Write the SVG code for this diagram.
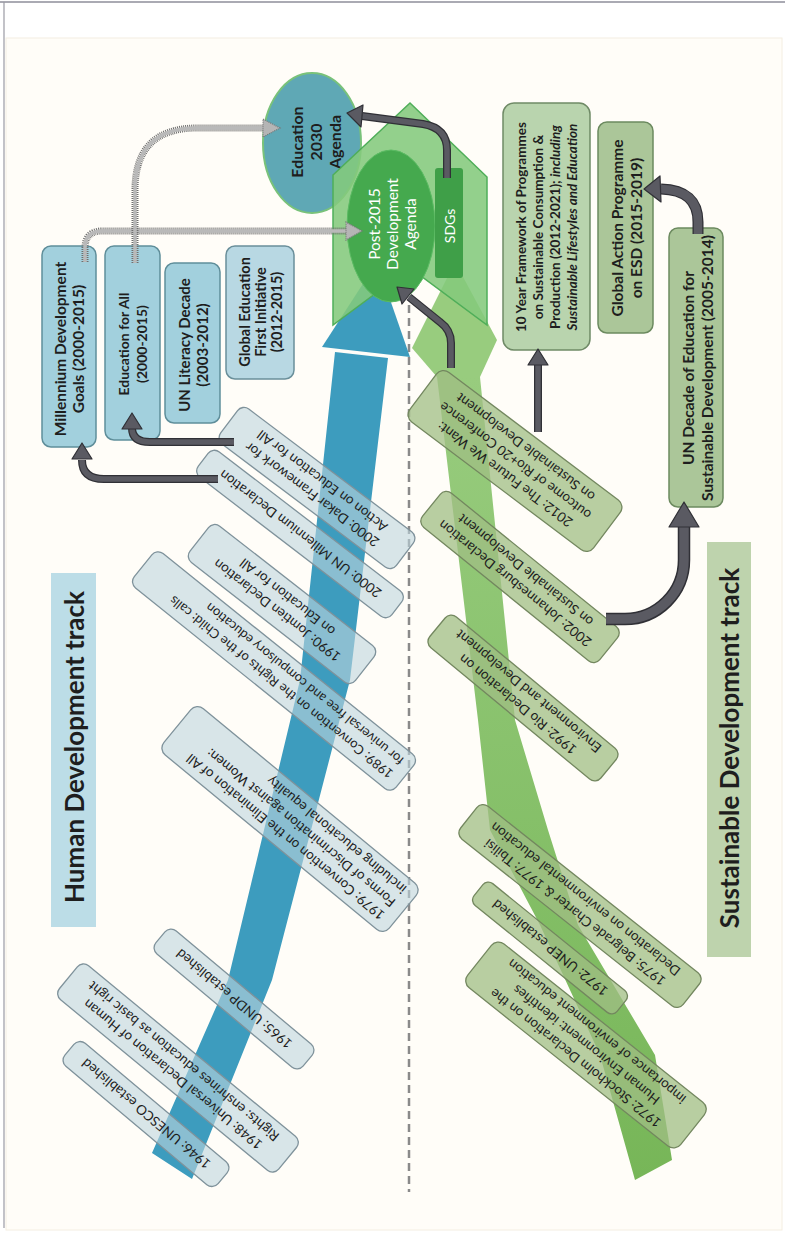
<svg xmlns="http://www.w3.org/2000/svg" width="785" height="1256" viewBox="0 0 785 1256">
<defs>
<style>
text{font-family:Lato,"Open Sans","Liberation Sans",sans-serif;fill:#1e1e1e;dominant-baseline:central;text-anchor:middle}
text.st{text-anchor:start}
.vt{font-size:14px;font-weight:bold}
.dt{font-size:13.5px}
.bb{fill:#bed5de;fill-opacity:.6;stroke:#7f929b;stroke-width:1.3}
.gb{fill:#a0be84;fill-opacity:.75;stroke:#73875f;stroke-width:1.3}
.vb{fill:#a2d0dd;stroke:#5f8e9a;stroke-width:1.5}
.gvb{fill:#abc699;stroke:#6c8a5f;stroke-width:1.5}
.dko{fill:none;stroke:#303036;stroke-width:8}
.dki{fill:none;stroke:#5a5a62;stroke-width:5.5}
.dkh{fill:#5a5a62;stroke:#303036;stroke-width:1.2;stroke-linejoin:round}
.dto{fill:none;stroke:#6f6f6f;stroke-width:7;stroke-dasharray:1 1}
.dti{fill:none;stroke:#b9b9b9;stroke-width:3.5}
.dth{fill:#b5b5b5;stroke:#777;stroke-width:1.2;stroke-dasharray:1 1}
</style>
<linearGradient id="gg" x1="0" y1="0" x2="0" y2="1">
<stop offset="0" stop-color="#98cc7e"/><stop offset="1" stop-color="#77b658"/>
</linearGradient>
</defs>
<rect width="785" height="1256" fill="#ffffff"/>
<rect x="6" y="38" width="776" height="1192" fill="#fffdf8" stroke="#f4eee2" stroke-width="1"/>
<line x1="0" y1="2" x2="785" y2="2" stroke="#8e8e9a" stroke-width="1.5"/>
<line x1="4" y1="2" x2="4" y2="1228" stroke="#9a9aa3" stroke-width="1.2"/>

<g id="human-track-label">
<rect x="51" y="573" width="45" height="354" fill="#bcdde7"/>
<text transform="translate(74,747) rotate(-90)" font-size="26" font-weight="bold">Human Development track</text>
</g>
<g id="sustainable-track-label">
<rect x="707" y="542" width="44" height="415" fill="#bed3ad"/>
<text transform="translate(729,748) rotate(-90)" font-size="26" font-weight="bold">Sustainable Development track</text>
</g>

<line id="divider" x1="409" y1="305" x2="409" y2="1192" stroke="#8a8a8a" stroke-width="2.5" stroke-dasharray="8 5"/>

<g id="tracks">
<polygon fill="#3d9cbe" points="335,352 388,358 350,680 272,980 192,1179 152,1153 228,980 300,680"/>
<polygon fill="#3d9cbe" points="322,347 377,262 410,357"/>
<polygon fill="url(#gg)" points="437,377 480,377 515,720 548,830 578,925 655,1055 672,1160 635,1180 600,1055 540,925 490,830 478,720"/>
<polygon fill="#98cc7e" points="437,377 412,348 455,262 497,340 480,377"/>
</g>

<g id="b1946" transform="translate(146,1114) rotate(220)"><rect class="bb" x="-100" y="-15" width="200" height="30" rx="8"/><text class="dt"><tspan x="0" y="0">1946: UNESCO established</tspan></text></g>
<g id="b1948" transform="translate(178,1068) rotate(219.5)"><rect class="bb" x="-142" y="-22" width="284" height="44" rx="8"/><text class="dt"><tspan x="0" y="-8.5">1948: Universal Declaration of Human</tspan><tspan x="0" y="8.5">Rights: enshrines education as basic right</tspan></text></g>
<g id="b1965" transform="translate(234,999) rotate(220)"><rect class="bb" x="-96" y="-15" width="192" height="30" rx="8"/><text class="dt"><tspan x="0" y="0">1965: UNDP established</tspan></text></g>
<g id="b1979" transform="translate(290,819) rotate(219.5)"><rect class="bb" x="-146" y="-30" width="292" height="60" rx="9"/><text class="dt st"><tspan x="-134" y="-17">1979: Convention on the Elimination of All</tspan><tspan x="-134" y="0">Forms of Discrimination against Women:</tspan><tspan x="-134" y="17">including educational equality</tspan></text></g>
<g id="b1989" transform="translate(274,671) rotate(218.8)"><rect class="bb" x="-168" y="-22" width="336" height="44" rx="8"/><text class="dt st" style="font-size:13px"><tspan x="-157" y="-8.5">1989: Convention on the Rights of the Child: calls</tspan><tspan x="-157" y="8.5">for universal free and compulsory education</tspan></text></g>
<g id="b1990" transform="translate(282,604) rotate(218)"><rect class="bb" x="-105" y="-23" width="210" height="46" rx="8"/><text class="dt"><tspan x="0" y="-8.5">1990: Jomtien Declaration</tspan><tspan x="0" y="8.5">on Education for All</tspan></text></g>
<g id="b2000dakar" transform="translate(317,488) rotate(217)"><rect class="bb" x="-110" y="-22" width="220" height="44" rx="8"/><text class="dt"><tspan x="0" y="-8.5">2000: Dakar Framework for</tspan><tspan x="0" y="8.5">Action on Education for All</tspan></text></g>
<g id="b2000mill" transform="translate(300,534) rotate(217.5)"><rect class="bb" x="-122" y="-16" width="244" height="32" rx="8"/><text class="dt"><tspan x="0" y="0">2000: UN Millennium Declaration</tspan></text></g>

<g id="g1975" transform="translate(580,906) rotate(218.4)"><rect class="gb" x="-142" y="-21" width="284" height="42" rx="8"/><text class="dt"><tspan x="0" y="-8.5">1975: Belgrade Charter &amp; 1977: Tbilisi</tspan><tspan x="0" y="8.5">Declaration on environmental education</tspan></text></g>
<g id="g1972unep" transform="translate(550,948) rotate(219)"><rect class="gb" x="-92" y="-14" width="184" height="28" rx="7"/><text class="dt"><tspan x="0" y="0">1972: UNEP established</tspan></text></g>
<g id="g1972stock" transform="translate(586,1045) rotate(218.5)"><rect class="gb" x="-136" y="-28" width="272" height="56" rx="9"/><text class="dt"><tspan x="0" y="-17">1972: Stockholm Declaration on the</tspan><tspan x="0" y="0">Human Environment: identifies</tspan><tspan x="0" y="17">importance of environment education</tspan></text></g>
<g id="g1992" transform="translate(523,698) rotate(219.6)"><rect class="gb" x="-111" y="-20" width="222" height="40" rx="8"/><text class="dt"><tspan x="0" y="-8.5">1992: Rio Declaration on</tspan><tspan x="0" y="8.5">Environment and Development</tspan></text></g>
<g id="g2002" transform="translate(520,577) rotate(219)"><rect class="gb" x="-114" y="-22" width="228" height="44" rx="8"/><text class="dt"><tspan x="0" y="-8.5">2002: Johannesburg Declaration</tspan><tspan x="0" y="8.5">on Sustainable Development</tspan></text></g>
<g id="g2012" transform="translate(515,461) rotate(217)"><rect class="gb" x="-115" y="-31" width="230" height="62" rx="9"/><text class="dt"><tspan x="0" y="-17">2012: The Future We Want:</tspan><tspan x="0" y="0">outcome of Rio+20 Conference</tspan><tspan x="0" y="17">on Sustainable Development</tspan></text></g>

<g id="mdg"><rect class="vb" x="42" y="246" width="54" height="201" rx="9"/><text class="vt" transform="translate(69,349) rotate(-90)" style="font-size:15.5px"><tspan x="0" y="-9">Millennium Development</tspan><tspan x="0" y="9">Goals  (2000-2015)</tspan></text></g>
<g id="efa"><rect class="vb" x="105" y="246" width="55" height="194" rx="9"/><text class="vt" transform="translate(132,344) rotate(-90)"><tspan x="0" y="-9">Education for All</tspan><tspan x="0" y="9">(2000-2015)</tspan></text></g>
<g id="literacy"><rect class="vb" x="165" y="263" width="55" height="160" rx="9"/><text class="vt" transform="translate(193,345) rotate(-90)" style="font-size:15px"><tspan x="0" y="-9">UN Literacy Decade</tspan><tspan x="0" y="9">(2003-2012)</tspan></text></g>
<g id="gefi"><rect x="226" y="246" width="68" height="133" rx="9" fill="#b8d8e3" stroke="#6a8f9a" stroke-width="1.5"/><text class="vt" transform="translate(260,312) rotate(-90)" style="font-size:14.5px"><tspan x="0" y="-16">Global Education</tspan><tspan x="0" y="0">First Initiative</tspan><tspan x="0" y="16">(2012-2015)</tspan></text></g>

<g id="tenyear"><rect x="503" y="103" width="87" height="247" rx="11" fill="#b9d4ae" stroke="#6f8a66" stroke-width="1.5"/><text class="vt" transform="translate(547,227) rotate(-90)" style="font-size:13.5px"><tspan x="0" y="-26">10 Year Framework of Programmes</tspan><tspan x="0" y="-9">on Sustainable Consumption &amp;</tspan><tspan x="0" y="8">Production (2012-2021); <tspan font-style="italic">including</tspan></tspan><tspan x="0" y="25" font-style="italic">Sustainable Lifestyles and Education</tspan></text></g>
<g id="gap"><rect class="gvb" x="598" y="122" width="55" height="211" rx="9"/><text class="vt" transform="translate(626,228) rotate(-90)" style="font-size:15.5px"><tspan x="0" y="-9.5">Global Action Programme</tspan><tspan x="0" y="9.5">on ESD (2015-2019)</tspan></text></g>
<g id="undesd"><rect class="gvb" x="669" y="228" width="54" height="279" rx="9"/><text class="vt" transform="translate(697,368) rotate(-90)" style="font-size:15.5px"><tspan x="0" y="-9.5">UN Decade of Education for</tspan><tspan x="0" y="9.5">Sustainable Development (2005-2014)</tspan></text></g>

<g id="edu2030"><ellipse cx="312" cy="143" rx="49" ry="70" fill="#5fa8b5" stroke="#79c27a" stroke-width="2"/><text class="vt" transform="translate(315,142) rotate(-90)" style="font-size:16px"><tspan x="0" y="-19">Education</tspan><tspan x="0" y="0">2030</tspan><tspan x="0" y="19">Agenda</tspan></text></g>
<g id="sdg-chevron"><polygon points="410,103 487,177 487,325 410,268 333,325 333,175" fill="#84c97c" fill-opacity=".88" stroke="#4fae59" stroke-width="1.5"/></g>
<g id="post2015"><ellipse cx="391" cy="226" rx="44" ry="76" fill="#45a94e" stroke="#5bbb63" stroke-width="1"/><text transform="translate(392,224) rotate(-90)" style="font-size:15.5px;fill:#ffffff"><tspan x="0" y="-18">Post-2015</tspan><tspan x="0" y="0">Development</tspan><tspan x="0" y="18">Agenda</tspan></text></g>
<g id="sdgs"><rect x="435" y="168" width="28" height="110" rx="3" fill="#3f9f48"/><text transform="translate(449,226) rotate(-90)" style="font-size:14px;fill:#ffffff">SDGs</text></g>

<g id="connectors">
<path class="dto" d="M85,262 L85,248 Q85,231 102,231 L347,231"/>
<path class="dti" d="M85,262 L85,248 Q85,231 102,231 L347,231"/>
<polygon class="dth" points="362,231 346,222 346,240"/>
<path class="dto" d="M135,263 L135,190 Q135,128 197,128 L264,128"/>
<path class="dti" d="M135,263 L135,190 Q135,128 197,128 L264,128"/>
<polygon class="dth" points="280,128 263,119 263,137"/>

<path class="dko" d="M447,178 L447,150 Q447,128 423,124 L362,116"/>
<path class="dki" d="M447,178 L447,150 Q447,128 423,124 L362,116"/>
<polygon class="dkh" points="347,113 363,105 361,127"/>

<path class="dko" d="M451,368 L451,343 Q451,330 440,322 L409,297"/>
<path class="dki" d="M451,368 L451,343 Q451,330 440,322 L409,297"/>
<polygon class="dkh" points="397,287 414,289 402,304"/>

<path class="dko" d="M234,442 L150,442 Q132,442 132,428"/>
<path class="dki" d="M234,442 L150,442 Q132,442 132,428"/>
<polygon class="dkh" points="132,413 122,429 142,429"/>

<path class="dko" d="M218,479 L104,479 Q82,479 82,460"/>
<path class="dki" d="M218,479 L104,479 Q82,479 82,460"/>
<polygon class="dkh" points="82,443 72,459 92,459"/>

<path class="dko" d="M538,432 L538,364"/>
<path class="dki" d="M538,432 L538,364"/>
<polygon class="dkh" points="538,349 528,365 548,365"/>

<path class="dko" style="stroke-width:12.5" d="M606,619 L625,619 A59,59 0 0 0 684,560 L684,526"/>
<path class="dki" style="stroke-width:9.5" d="M606,619 L625,619 A59,59 0 0 0 684,560 L684,526"/>
<polygon class="dkh" points="684,502 669,527 699,527"/>

<path class="dko" style="stroke-width:11" d="M698,234 L698,222 Q698,190 661,189"/>
<path class="dki" style="stroke-width:8.5" d="M698,234 L698,222 Q698,190 661,189"/>
<polygon class="dkh" points="644,189 660,176 661,202"/>
</g>
</svg>
